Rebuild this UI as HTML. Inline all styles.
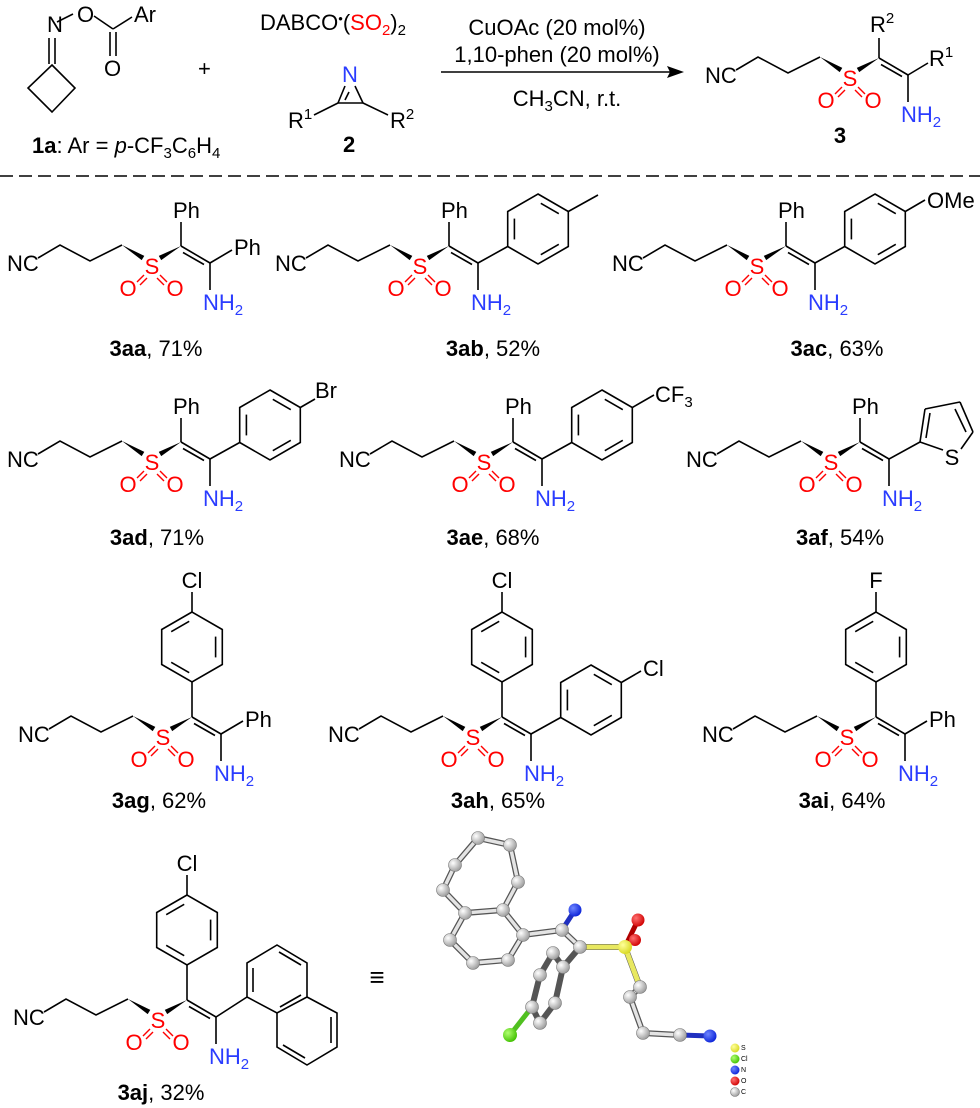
<!DOCTYPE html>
<html><head><meta charset="utf-8">
<style>
html,body{margin:0;padding:0;background:#fff;}
svg{display:block;}
text{font-family:"Liberation Sans",Arial,sans-serif;font-size:22px;fill:#000;}
.r{fill:#ff0000;}
.b{fill:#2a3cff;}
.sub{font-size:15px;}
.tiny{font-size:7px;}
</style></head>
<body>
<svg width="980" height="1108" viewBox="0 0 980 1108" xmlns="http://www.w3.org/2000/svg">
<defs>
 <g id="core" stroke="#000" stroke-width="1.6" fill="none">
  <polyline points="-114,-8 -92,-21 -62,-5 -30,-21"/>
  <polygon points="-30,-21 -7.7,-10.1 -10.3,-5.9" fill="#000" stroke="none"/>
  <polygon points="6.8,-10.1 9.2,-5.9 29,-20" fill="#000" stroke="none"/>
  <line x1="29" y1="-20" x2="58" y2="-3"/>
  <line x1="31" y1="-13.5" x2="52" y2="-1.5"/>
  <line x1="58" y1="-3" x2="58" y2="24"/>
  <g stroke="#ff0000" stroke-width="1.4">
   <line x1="-8" y1="9" x2="-15" y2="16"/><line x1="-5" y1="12" x2="-12" y2="19"/>
   <line x1="8" y1="9" x2="15" y2="16"/><line x1="5" y1="12" x2="12" y2="19"/>
  </g>
 </g>
 <g id="hexA" stroke="#000" stroke-width="1.6" fill="none">
  <path d="M0,-35 L30.3,-17.5 L30.3,17.5 L0,35 L-30.3,17.5 L-30.3,-17.5 Z"/>
  <line x1="-23.6" y1="-10.4" x2="-23.6" y2="10.4"/>
  <line x1="2.8" y1="-25.7" x2="20.8" y2="-15.3"/>
  <line x1="20.8" y1="15.3" x2="2.8" y2="25.7"/>
 </g>
 <g id="hexB"><use href="#hexA" transform="scale(-1,1)"/></g>
 <g id="ringC2" stroke="#000" stroke-width="1.6">
  <line x1="58" y1="-3" x2="87.7" y2="-19.5"/>
  <use href="#hexA" transform="translate(118,-37)"/>
 </g>
 <g id="ringC1" stroke="#000" stroke-width="1.6">
  <line x1="29" y1="-20" x2="29" y2="-55"/>
  <use href="#hexB" transform="translate(29,-90)"/>
  <line x1="29" y1="-125" x2="29" y2="-145"/>
 </g>
 <radialGradient id="gC" cx="35%" cy="35%" r="70%"><stop offset="0" stop-color="#fff"/><stop offset="1" stop-color="#9a9a9a"/></radialGradient>
 <radialGradient id="gN" cx="35%" cy="35%" r="70%"><stop offset="0" stop-color="#6f86ff"/><stop offset="1" stop-color="#0a22d8"/></radialGradient>
 <radialGradient id="gO" cx="35%" cy="35%" r="70%"><stop offset="0" stop-color="#ff7070"/><stop offset="1" stop-color="#d00000"/></radialGradient>
 <radialGradient id="gS" cx="35%" cy="35%" r="70%"><stop offset="0" stop-color="#ffff9a"/><stop offset="1" stop-color="#d8d820"/></radialGradient>
 <radialGradient id="gCl" cx="35%" cy="35%" r="70%"><stop offset="0" stop-color="#b0ff70"/><stop offset="1" stop-color="#40c000"/></radialGradient>
</defs>

<!-- ===== Header ===== -->
<g stroke="#000" stroke-width="1.6" fill="none">
 <line x1="57" y1="22" x2="73" y2="14"/>
 <line x1="94" y1="16" x2="113" y2="29"/>
 <line x1="113" y1="29" x2="132" y2="17"/>
 <line x1="110" y1="32" x2="110" y2="56"/><line x1="116" y1="32" x2="116" y2="56"/>
 <line x1="49" y1="38" x2="49" y2="64"/><line x1="55" y1="38" x2="55" y2="64"/>
 <path d="M52,65 L75,88 L52,112 L28,88 Z"/>
 <line x1="345" y1="86" x2="338" y2="103"/>
 <line x1="349" y1="92" x2="345" y2="100"/>
 <line x1="355" y1="86" x2="363" y2="103"/>
 <line x1="338" y1="103" x2="363" y2="103"/>
 <line x1="338" y1="103" x2="314" y2="115"/>
 <line x1="363" y1="103" x2="388" y2="115"/>
 <line x1="441" y1="72" x2="672" y2="72"/>
</g>
<polygon points="684,72 667,66 670,72 667,78" fill="#000"/>
<text x="47" y="32">N</text>
<text x="77" y="22">O</text>
<text x="134" y="22">Ar</text>
<text x="104" y="76">O</text>
<text x="32" y="153"><tspan font-weight="bold">1a</tspan>: Ar = <tspan font-style="italic">p</tspan>-CF<tspan class="sub" dy="5">3</tspan><tspan dy="-5">C</tspan><tspan class="sub" dy="5">6</tspan><tspan dy="-5">H</tspan><tspan class="sub" dy="5">4</tspan></text>
<text x="198" y="76">+</text>
<text x="260" y="30">DABCO<tspan style="font-size:13px" dy="-7">•</tspan><tspan dy="7">(</tspan><tspan class="r">SO</tspan><tspan class="sub r" dy="5">2</tspan><tspan dy="-5">)</tspan><tspan class="sub" dy="5">2</tspan></text>
<text x="350" y="82" text-anchor="middle" class="b">N</text>
<text x="288" y="128">R<tspan class="sub" dy="-9">1</tspan></text>
<text x="390" y="128">R<tspan class="sub" dy="-9">2</tspan></text>
<text x="343" y="152" font-weight="bold">2</text>
<text x="557" y="35" text-anchor="middle">CuOAc (20 mol%)</text>
<text x="557" y="62" text-anchor="middle">1,10-phen (20 mol%)</text>
<text x="567" y="106" text-anchor="middle">CH<tspan class="sub" dy="5">3</tspan><tspan dy="-5">CN, r.t.</tspan></text>

<g transform="translate(850,78)">
 <use href="#core"/>
 <g stroke="#000" stroke-width="1.6"><line x1="29" y1="-20" x2="29" y2="-40"/><line x1="58" y1="-3" x2="78" y2="-15"/></g>
 <text x="-145" y="5">NC</text>
 <text x="0" y="8" text-anchor="middle" class="r">S</text>
 <text x="-24" y="30" text-anchor="middle" class="r">O</text>
 <text x="23" y="30" text-anchor="middle" class="r">O</text>
 <text x="51" y="44" class="b">NH<tspan class="sub b" dy="5">2</tspan></text>
 <text x="20" y="-46">R<tspan class="sub" dy="-9">2</tspan></text>
 <text x="79" y="-12">R<tspan class="sub" dy="-9">1</tspan></text>
</g>
<text x="840" y="143" text-anchor="middle" font-weight="bold">3</text>

<line x1="0" y1="176" x2="980" y2="176" stroke="#000" stroke-width="1.4" stroke-dasharray="13 6"/>

<!-- 3aa -->
<g transform="translate(152,266)">
 <use href="#core"/>
 <g stroke="#000" stroke-width="1.6"><line x1="29" y1="-20" x2="29" y2="-44"/><line x1="58" y1="-3" x2="80" y2="-16"/></g>
 <text x="-145" y="5">NC</text>
 <text x="0" y="8" text-anchor="middle" class="r">S</text>
 <text x="-24" y="30" text-anchor="middle" class="r">O</text>
 <text x="23" y="30" text-anchor="middle" class="r">O</text>
 <text x="51" y="44" class="b">NH<tspan class="sub b" dy="5">2</tspan></text>
 <text x="21" y="-48">Ph</text>
 <text x="82" y="-11">Ph</text>
</g>
<text x="156" y="356" text-anchor="middle"><tspan font-weight="bold">3aa</tspan>, 71%</text>

<!-- 3ab -->
<g transform="translate(420,266)">
 <use href="#core"/><use href="#ringC2"/>
 <g stroke="#000" stroke-width="1.6"><line x1="29" y1="-20" x2="29" y2="-44"/><line x1="148.3" y1="-54.5" x2="178" y2="-71"/></g>
 <text x="-145" y="5">NC</text>
 <text x="0" y="8" text-anchor="middle" class="r">S</text>
 <text x="-24" y="30" text-anchor="middle" class="r">O</text>
 <text x="23" y="30" text-anchor="middle" class="r">O</text>
 <text x="51" y="44" class="b">NH<tspan class="sub b" dy="5">2</tspan></text>
 <text x="21" y="-48">Ph</text>
</g>
<text x="493" y="356" text-anchor="middle"><tspan font-weight="bold">3ab</tspan>, 52%</text>

<!-- 3ac -->
<g transform="translate(757,266)">
 <use href="#core"/><use href="#ringC2"/>
 <g stroke="#000" stroke-width="1.6"><line x1="29" y1="-20" x2="29" y2="-44"/><line x1="148.3" y1="-54.5" x2="168" y2="-66"/></g>
 <text x="-145" y="5">NC</text>
 <text x="0" y="8" text-anchor="middle" class="r">S</text>
 <text x="-24" y="30" text-anchor="middle" class="r">O</text>
 <text x="23" y="30" text-anchor="middle" class="r">O</text>
 <text x="51" y="44" class="b">NH<tspan class="sub b" dy="5">2</tspan></text>
 <text x="21" y="-48">Ph</text>
 <text x="170" y="-58">OMe</text>
</g>
<text x="837" y="356" text-anchor="middle"><tspan font-weight="bold">3ac</tspan>, 63%</text>

<!-- 3ad -->
<g transform="translate(152,462)">
 <use href="#core"/><use href="#ringC2"/>
 <g stroke="#000" stroke-width="1.6"><line x1="29" y1="-20" x2="29" y2="-44"/><line x1="148.3" y1="-54.5" x2="163" y2="-63"/></g>
 <text x="-145" y="5">NC</text>
 <text x="0" y="8" text-anchor="middle" class="r">S</text>
 <text x="-24" y="30" text-anchor="middle" class="r">O</text>
 <text x="23" y="30" text-anchor="middle" class="r">O</text>
 <text x="51" y="44" class="b">NH<tspan class="sub b" dy="5">2</tspan></text>
 <text x="21" y="-48">Ph</text>
 <text x="163" y="-64">Br</text>
</g>
<text x="157" y="545" text-anchor="middle"><tspan font-weight="bold">3ad</tspan>, 71%</text>

<!-- 3ae -->
<g transform="translate(484,462)">
 <use href="#core"/><use href="#ringC2"/>
 <g stroke="#000" stroke-width="1.6"><line x1="29" y1="-20" x2="29" y2="-44"/><line x1="148.3" y1="-54.5" x2="170" y2="-67"/></g>
 <text x="-145" y="5">NC</text>
 <text x="0" y="8" text-anchor="middle" class="r">S</text>
 <text x="-24" y="30" text-anchor="middle" class="r">O</text>
 <text x="23" y="30" text-anchor="middle" class="r">O</text>
 <text x="51" y="44" class="b">NH<tspan class="sub b" dy="5">2</tspan></text>
 <text x="21" y="-48">Ph</text>
 <text x="171" y="-60">CF<tspan class="sub" dy="5">3</tspan></text>
</g>
<text x="493" y="545" text-anchor="middle"><tspan font-weight="bold">3ae</tspan>, 68%</text>

<!-- 3af -->
<g transform="translate(831,462)">
 <use href="#core"/>
 <g stroke="#000" stroke-width="1.6" fill="none">
  <line x1="29" y1="-20" x2="29" y2="-44"/>
  <line x1="58" y1="-3" x2="89" y2="-20"/>
  <line x1="89" y1="-20" x2="94" y2="-53"/>
  <line x1="95" y1="-24" x2="99" y2="-49"/>
  <line x1="94" y1="-53" x2="129" y2="-60"/>
  <line x1="129" y1="-60" x2="142" y2="-30"/>
  <line x1="124" y1="-53" x2="135" y2="-30"/>
  <line x1="142" y1="-30" x2="130" y2="-13"/>
  <line x1="112" y1="-12" x2="89" y2="-20"/>
 </g>
 <text x="-145" y="5">NC</text>
 <text x="0" y="8" text-anchor="middle" class="r">S</text>
 <text x="-24" y="30" text-anchor="middle" class="r">O</text>
 <text x="23" y="30" text-anchor="middle" class="r">O</text>
 <text x="51" y="44" class="b">NH<tspan class="sub b" dy="5">2</tspan></text>
 <text x="21" y="-48">Ph</text>
 <text x="121" y="3" text-anchor="middle">S</text>
</g>
<text x="840" y="545" text-anchor="middle"><tspan font-weight="bold">3af</tspan>, 54%</text>

<!-- 3ag -->
<g transform="translate(163,737)">
 <use href="#core"/><use href="#ringC1"/>
 <g stroke="#000" stroke-width="1.6"><line x1="58" y1="-3" x2="80" y2="-16"/></g>
 <text x="-145" y="5">NC</text>
 <text x="0" y="8" text-anchor="middle" class="r">S</text>
 <text x="-24" y="30" text-anchor="middle" class="r">O</text>
 <text x="23" y="30" text-anchor="middle" class="r">O</text>
 <text x="51" y="44" class="b">NH<tspan class="sub b" dy="5">2</tspan></text>
 <text x="29" y="-149" text-anchor="middle">Cl</text>
 <text x="82" y="-10">Ph</text>
</g>
<text x="159" y="808" text-anchor="middle"><tspan font-weight="bold">3ag</tspan>, 62%</text>

<!-- 3ah -->
<g transform="translate(473,737)">
 <use href="#core"/><use href="#ringC1"/><use href="#ringC2"/>
 <g stroke="#000" stroke-width="1.6"><line x1="148.3" y1="-54.5" x2="168" y2="-66"/></g>
 <text x="-145" y="5">NC</text>
 <text x="0" y="8" text-anchor="middle" class="r">S</text>
 <text x="-24" y="30" text-anchor="middle" class="r">O</text>
 <text x="23" y="30" text-anchor="middle" class="r">O</text>
 <text x="51" y="44" class="b">NH<tspan class="sub b" dy="5">2</tspan></text>
 <text x="29" y="-149" text-anchor="middle">Cl</text>
 <text x="170" y="-61">Cl</text>
</g>
<text x="498" y="808" text-anchor="middle"><tspan font-weight="bold">3ah</tspan>, 65%</text>

<!-- 3ai -->
<g transform="translate(847,737)">
 <use href="#core"/><use href="#ringC1"/>
 <g stroke="#000" stroke-width="1.6"><line x1="58" y1="-3" x2="80" y2="-16"/></g>
 <text x="-145" y="5">NC</text>
 <text x="0" y="8" text-anchor="middle" class="r">S</text>
 <text x="-24" y="30" text-anchor="middle" class="r">O</text>
 <text x="23" y="30" text-anchor="middle" class="r">O</text>
 <text x="51" y="44" class="b">NH<tspan class="sub b" dy="5">2</tspan></text>
 <text x="29" y="-149" text-anchor="middle">F</text>
 <text x="82" y="-10">Ph</text>
</g>
<text x="842" y="808" text-anchor="middle"><tspan font-weight="bold">3ai</tspan>, 64%</text>

<!-- 3aj -->
<g transform="translate(158,1020)">
 <use href="#core"/><use href="#ringC1"/>
 <g stroke="#000" stroke-width="1.6" fill="none">
  <line x1="58" y1="-3" x2="89" y2="-23"/>
  <path d="M89,-23 L89,-57 L119,-75 L149,-57 L149,-23 L119,-7 Z"/>
  <path d="M149,-23 L179,-7 L179,27 L149,45 L119,27 L119,-7"/>
  <line x1="95" y1="-28" x2="95" y2="-52"/>
  <line x1="121" y1="-68" x2="143" y2="-55"/>
  <line x1="143" y1="-25" x2="122" y2="-13"/>
  <line x1="173" y1="-3" x2="173" y2="23"/>
  <line x1="147" y1="38" x2="125" y2="25"/>
 </g>
 <text x="-145" y="5">NC</text>
 <text x="0" y="8" text-anchor="middle" class="r">S</text>
 <text x="-24" y="30" text-anchor="middle" class="r">O</text>
 <text x="23" y="30" text-anchor="middle" class="r">O</text>
 <text x="51" y="44" class="b">NH<tspan class="sub b" dy="5">2</tspan></text>
 <text x="29" y="-149" text-anchor="middle">Cl</text>
</g>
<text x="161" y="1100" text-anchor="middle"><tspan font-weight="bold">3aj</tspan>, 32%</text>
<text x="377" y="986" text-anchor="middle" style="font-size:26px">≡</text>

<!-- crystal structure -->
<g stroke-linecap="round">
 <g stroke="#555" stroke-width="6" fill="none">
  <path d="M443,890 L455,865 L478,838 L510,845 L518,882 L503,910 L465,913 Z"/>
  <path d="M465,913 L450,940 L473,963 L508,960 L523,935 L503,910"/>
  <path d="M523,935 L562,930 L580,947 L625,947"/>
  <path d="M580,947 L563,967 L555,1003 L540,1023 L532,1007 L540,975 L553,953 L563,967"/>
  <path d="M625,947 L640,987 L630,997 L643,1033 L680,1035"/>
 </g>
 <g stroke="#e4e4e4" stroke-width="3.5" fill="none">
  <path d="M443,890 L455,865 L478,838 L510,845 L518,882 L503,910 L465,913 Z"/>
  <path d="M465,913 L450,940 L473,963 L508,960 L523,935 L503,910"/>
  <path d="M523,935 L562,930 L580,947"/>
  <path d="M643,1033 L680,1035"/>
  <path d="M640,987 L630,997 L643,1033"/>
 </g>
 <line x1="580" y1="947" x2="625" y2="947" stroke="#e8e860" stroke-width="5"/>
 <line x1="625" y1="947" x2="640" y2="987" stroke="#e8e860" stroke-width="5"/>
 <line x1="562" y1="930" x2="575" y2="910" stroke="#2030c0" stroke-width="5"/>
 <line x1="625" y1="947" x2="638" y2="920" stroke="#b00000" stroke-width="5"/>
 <line x1="532" y1="1007" x2="510" y2="1035" stroke="#50c020" stroke-width="5"/>
 <line x1="680" y1="1035" x2="710" y2="1036" stroke="#2030c0" stroke-width="5"/>
</g>
<g stroke="#777" stroke-width="0.6">
 <circle cx="443" cy="890" r="6.5" fill="url(#gC)"/><circle cx="455" cy="865" r="6.5" fill="url(#gC)"/>
 <circle cx="478" cy="838" r="6.5" fill="url(#gC)"/><circle cx="510" cy="845" r="6.5" fill="url(#gC)"/>
 <circle cx="518" cy="882" r="6.5" fill="url(#gC)"/><circle cx="503" cy="910" r="6.5" fill="url(#gC)"/>
 <circle cx="465" cy="913" r="6.5" fill="url(#gC)"/><circle cx="450" cy="940" r="6.5" fill="url(#gC)"/>
 <circle cx="473" cy="963" r="6.5" fill="url(#gC)"/><circle cx="508" cy="960" r="6.5" fill="url(#gC)"/>
 <circle cx="523" cy="935" r="6.5" fill="url(#gC)"/><circle cx="562" cy="930" r="6.5" fill="url(#gC)"/>
 <circle cx="580" cy="947" r="6.5" fill="url(#gC)"/>
 <circle cx="553" cy="953" r="6.5" fill="url(#gC)"/><circle cx="563" cy="967" r="6.5" fill="url(#gC)"/>
 <circle cx="540" cy="975" r="6.5" fill="url(#gC)"/><circle cx="555" cy="1003" r="6.5" fill="url(#gC)"/>
 <circle cx="532" cy="1007" r="6.5" fill="url(#gC)"/><circle cx="540" cy="1023" r="6.5" fill="url(#gC)"/>
 <circle cx="640" cy="987" r="6.5" fill="url(#gC)"/><circle cx="630" cy="997" r="6.5" fill="url(#gC)"/>
 <circle cx="643" cy="1033" r="6.5" fill="url(#gC)"/><circle cx="680" cy="1035" r="6.5" fill="url(#gC)"/>
 <circle cx="575" cy="910" r="6.5" fill="url(#gN)" stroke="none"/>
 <circle cx="710" cy="1036" r="6.5" fill="url(#gN)" stroke="none"/>
 <circle cx="638" cy="920" r="6.5" fill="url(#gO)" stroke="none"/>
 <circle cx="635" cy="940" r="6" fill="url(#gO)" stroke="none"/>
 <circle cx="625" cy="947" r="7" fill="url(#gS)" stroke="none"/>
 <circle cx="510" cy="1035" r="7" fill="url(#gCl)" stroke="none"/>
 <circle cx="735" cy="1048" r="4.5" fill="url(#gS)" stroke="none"/>
 <circle cx="735" cy="1059" r="4.5" fill="url(#gCl)" stroke="none"/>
 <circle cx="735" cy="1070" r="4.5" fill="url(#gN)" stroke="none"/>
 <circle cx="735" cy="1081" r="4.5" fill="url(#gO)" stroke="none"/>
 <circle cx="735" cy="1092" r="4.5" fill="url(#gC)"/>
</g>
<text x="741" y="1050" class="tiny">S</text>
<text x="741" y="1061" class="tiny">Cl</text>
<text x="741" y="1072" class="tiny">N</text>
<text x="741" y="1083" class="tiny">O</text>
<text x="741" y="1094" class="tiny">C</text>
</svg>
</body></html>
